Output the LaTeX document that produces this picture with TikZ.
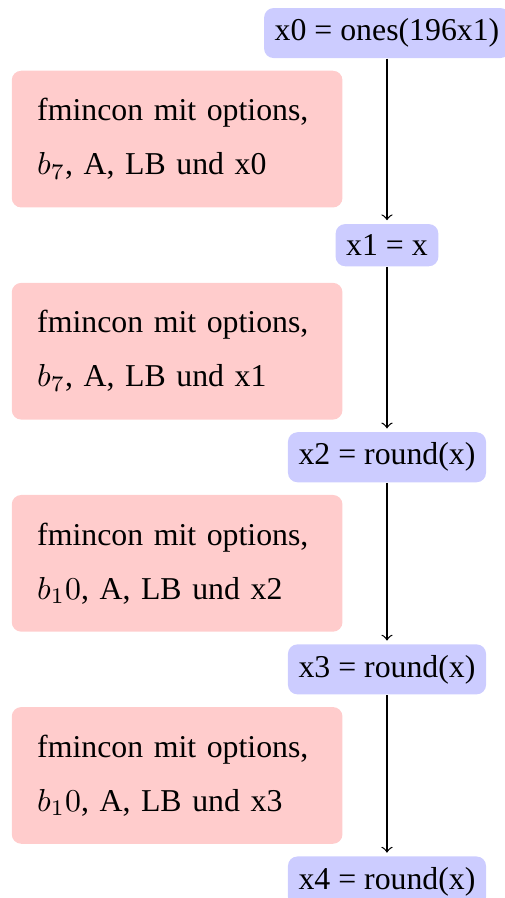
\documentclass[tikz,border=0pt]{standalone}
\usepackage{fontspec}
\setmainfont{Liberation Serif}
\usepackage{tikz}
\usetikzlibrary{positioning,calc,arrows}
\tikzstyle{wert}=[rectangle,rounded corners=3pt,fill=blue!20]
\tikzstyle{schritt}=[rectangle,rounded corners=3pt,fill=red!20,text width=88pt,inner sep=8pt,minimum height=43pt,align=left]

\begin{document}
\begin{tikzpicture}[shorten >=1pt,node distance=66.7pt,on grid,auto]
    \useasboundingbox (-121.7pt,10.4pt) rectangle (37.1pt,-272pt);

          \node[wert] (x_0)                {x0 = ones(196x1)};
          \node[wert] (x_1) [below=of x_0] {x1 = x};
          \node[wert] (x_2) [below=of x_1] {x2 = round(x)};
          \node[wert] (x_3) [below=of x_2] {x3 = round(x)};
          \node[wert] (x_4) [below=of x_3] {x4 = round(x)};

          \coordinate (m_1) at ($(x_0)!0.5!(x_1)$);
          \coordinate (m_2) at ($(x_1)!0.5!(x_2)$);
          \coordinate (m_3) at ($(x_2)!0.5!(x_3)$);
          \coordinate (m_4) at ($(x_3)!0.5!(x_4)$);

          \node[schritt] (f_1) [left=13.8pt of m_1] {fmincon mit options,\\[5pt] $b_7$, A, LB und x0};
          \node[schritt] (f_2) [left=13.8pt of m_2] {fmincon mit options,\\[5pt] $b_7$, A, LB und x1};
          \node[schritt] (f_3) [left=13.8pt of m_3] {fmincon mit options,\\[5pt] $b_10$, A, LB und x2};
          \node[schritt] (f_4) [left=13.8pt of m_4] {fmincon mit options,\\[5pt] $b_10$, A, LB und x3};

          \path[->] (x_0) edge (x_1)
                    (x_1) edge (x_2)
                    (x_2) edge (x_3)
                    (x_3) edge (x_4);
        \end{tikzpicture}
\end{document}
